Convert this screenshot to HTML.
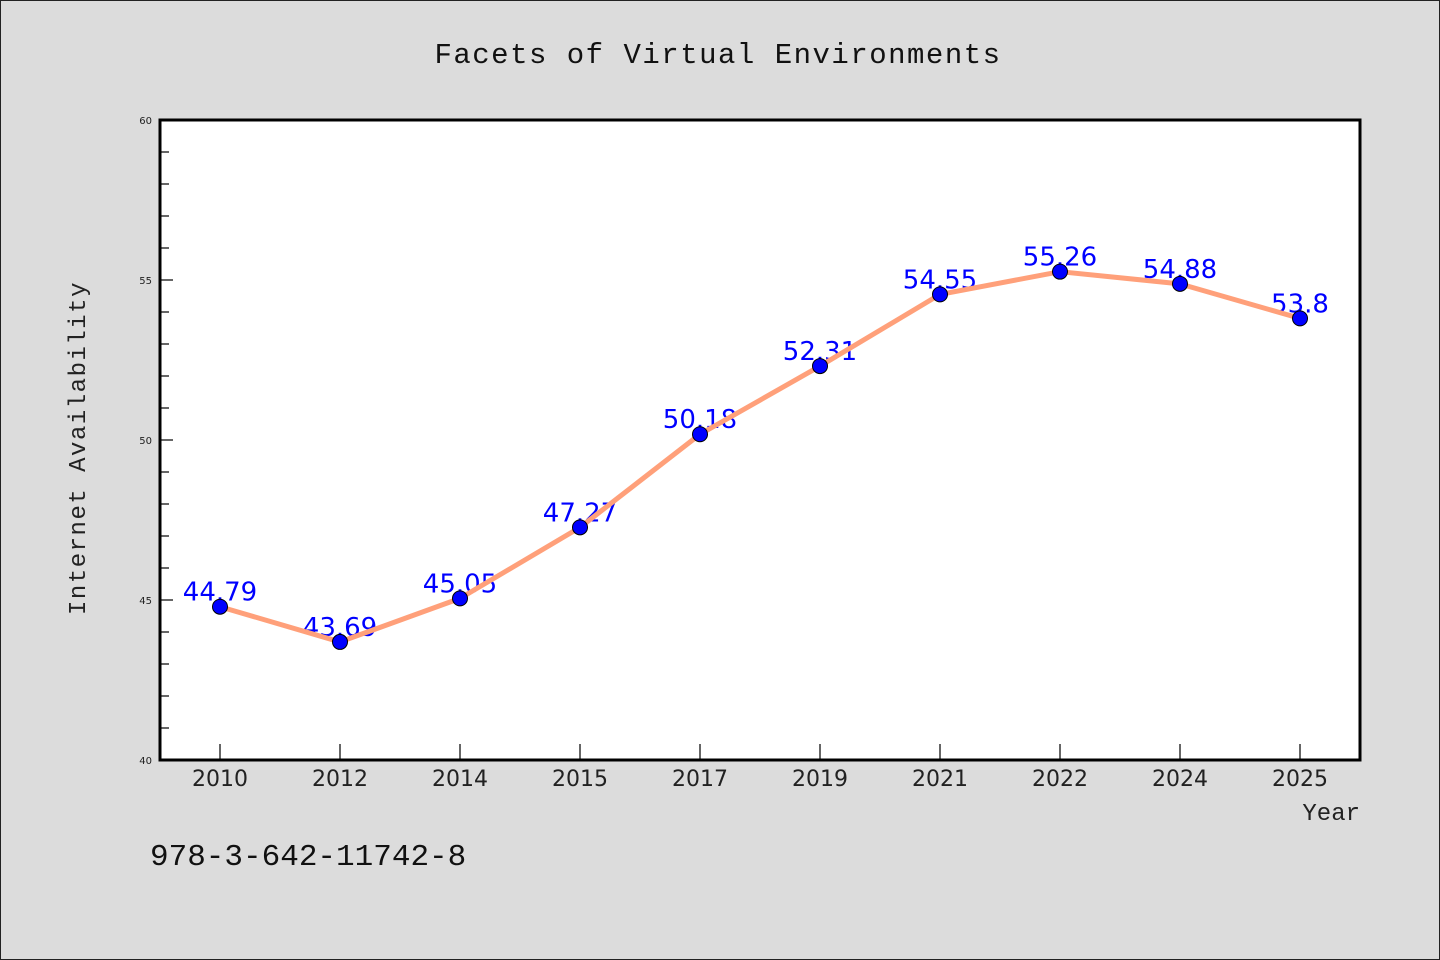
<!DOCTYPE html>
<html><head><meta charset="utf-8"><style>
body{margin:0;background:#dcdcdc;}
svg{display:block;}
</style></head><body>
<svg id="chart" width="1440" height="960" xmlns="http://www.w3.org/2000/svg">
<rect x="0.5" y="0.5" width="1439" height="959" fill="#dcdcdc" stroke="#222" stroke-width="1"/>
<text x="718" y="63" text-anchor="middle" font-family="'WenQuanYi Zen Hei','Liberation Mono',monospace" font-size="29" fill="#111" letter-spacing="1.5">Facets of Virtual Environments</text>
<rect x="160" y="120" width="1200" height="640" fill="#fff"/>
<g id="grid"></g>
<g id="labels"></g>
<g id="series"></g>
<rect x="160" y="120" width="1200" height="640" fill="none" stroke="#000" stroke-width="3"/>
<text transform="translate(85,448) rotate(-90)" text-anchor="middle" font-family="'WenQuanYi Zen Hei','Liberation Mono',monospace" font-size="24" fill="#222" letter-spacing="1.5">Internet Availability</text>
<text x="1360" y="820" text-anchor="end" font-family="'WenQuanYi Zen Hei','Liberation Mono',monospace" font-size="24" fill="#222">Year</text>
<text x="150" y="865" font-family="'WenQuanYi Zen Hei','Liberation Mono',monospace" font-size="31" fill="#111">978-3-642-11742-8</text>
</svg>
<script>
const categories=["2010","2012","2014","2015","2017","2019","2021","2022","2024","2025"];
const values=[44.79,43.69,45.05,47.27,50.18,52.31,54.55,55.26,54.88,53.8];
const valueLabels=["44.79","43.69","45.05","47.27","50.18","52.31","54.55","55.26","54.88","53.8"];
const yTicks=[40,45,50,55,60];
const yMin=40,yMax=60;
const L=160,T=120,W=1200,H=640;
const NS="http://www.w3.org/2000/svg";
function xPos(i){return L+(i+0.5)*W/categories.length;}
function yPos(v){return T+H-(v-yMin)/(yMax-yMin)*H;}
function mk(tag,attrs,parent){const e=document.createElementNS(NS,tag);for(const k in attrs)e.setAttribute(k,attrs[k]);parent.appendChild(e);return e;}
const grid=document.getElementById('grid'),labels=document.getElementById('labels'),series=document.getElementById('series');
for(let v=yMin;v<=yMax;v++){
  const major=yTicks.includes(v);
  const t=mk('line',{x1:L,x2:L+(major?13:9),y1:yPos(v),y2:yPos(v),stroke:'#000','stroke-width':1.2},grid);
  
  
}
yTicks.forEach(v=>{
  const t=mk('text',{x:L-8,y:yPos(v)+4,'text-anchor':'end','font-family':"'DejaVu Sans',sans-serif",'font-size':10,fill:'#222'},grid);
  t.textContent=v;
  
  
});
categories.forEach((c,i)=>{
  const tk=mk('line',{x1:xPos(i),x2:xPos(i),y1:T+H,y2:T+H-16,stroke:'#000','stroke-width':1.2},grid);
  
  
  const t=mk('text',{x:xPos(i),y:T+H+26,'text-anchor':'middle','font-family':"'DejaVu Sans',sans-serif",'font-size':22,fill:'#222'},grid);
  t.textContent=c;
  
  
});
values.forEach((v,i)=>{
  const t=mk('text',{x:xPos(i),y:yPos(v)-6,'text-anchor':'middle','font-family':"'DejaVu Sans',sans-serif",'font-size':26,fill:'#0000ff'},labels);
  t.textContent=valueLabels[i];
  
  
});
const pl=mk('polyline',{points:values.map((v,i)=>xPos(i)+','+yPos(v)).join(' '),fill:'none',stroke:'#ffa07a','stroke-width':5,'stroke-linejoin':'round'},series);


values.forEach((v,i)=>{
  const c=mk('circle',{cx:xPos(i),cy:yPos(v),r:7.5,fill:'#0000ff',stroke:'#000','stroke-width':1},series);
  
  
});
</script>
</body></html>
